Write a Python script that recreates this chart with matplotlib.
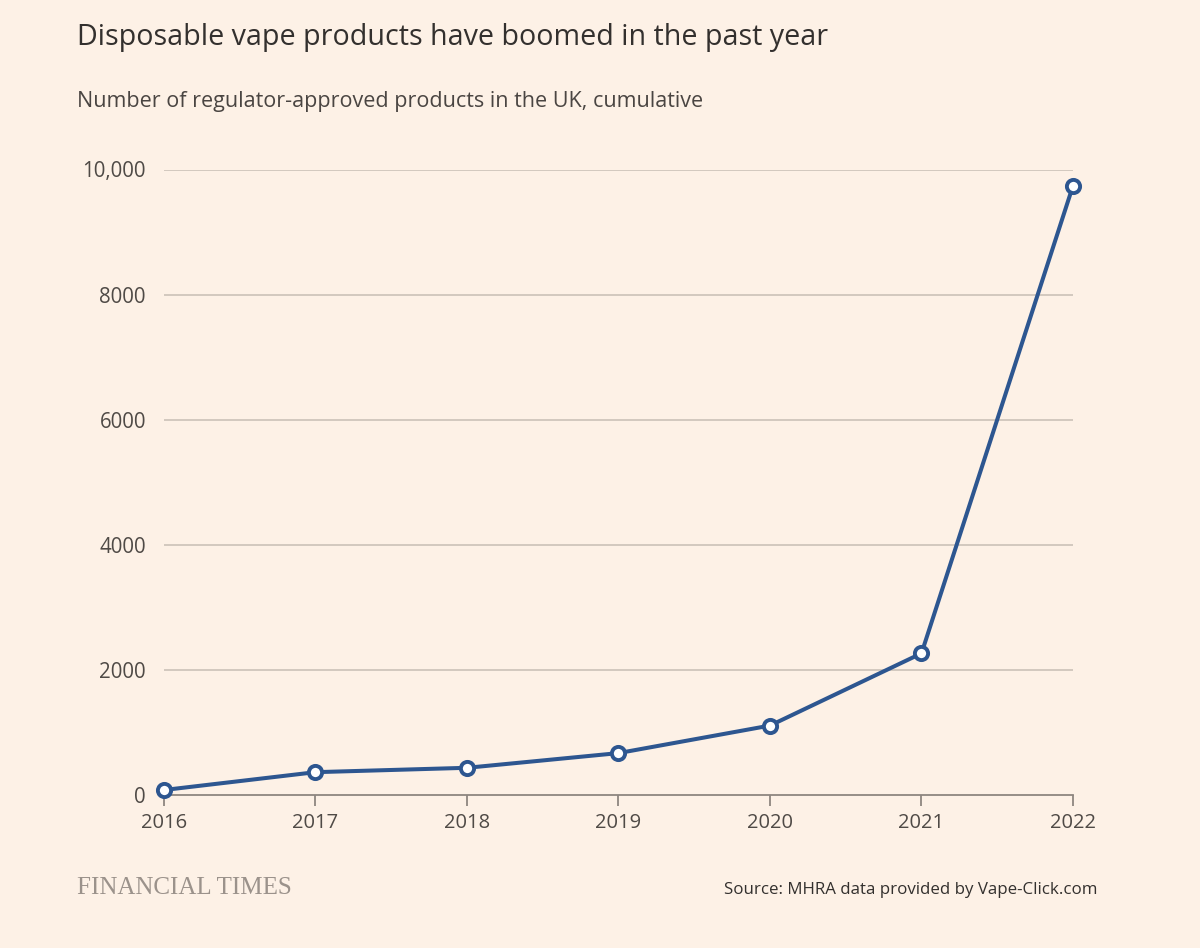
import matplotlib
matplotlib.use("Agg")
import matplotlib.pyplot as plt
from matplotlib.ticker import FixedLocator

years = [2016, 2017, 2018, 2019, 2020, 2021, 2022]
products = [80, 365, 435, 670, 1110, 2265, 9740]
ytick_vals = [0, 2000, 4000, 6000, 8000, 10000]
ytick_labels = ["0", "2000", "4000", "6000", "8000", "10,000"]

BG = "#FDF1E6"
LINE = "#2D5690"
GRID = "#CFC5BB"
AXIS = "#8E8680"
TXT = "#33302E"
TICKTXT = "#4F4A46"

plt.rcParams["font.family"] = ["Open Sans", "DejaVu Sans"]

fig = plt.figure(figsize=(12, 9.48), dpi=100, facecolor=BG)
ax = fig.add_axes([164/1200, 1-795/948, (1073-164)/1200, (795-169.5)/948])
ax.set_facecolor(BG)

ax.plot(years, products, color=LINE, lw=2.9, marker="o", ms=9.5,
        mfc="white", mec=LINE, mew=2.8, clip_on=False, zorder=5)

ax.set_xlim(2016, 2022)
ax.set_ylim(0, 10000)
ax.yaxis.set_major_locator(FixedLocator(ytick_vals))
ax.set_yticklabels(ytick_labels)
ax.set_xticks(years)
ax.set_xticklabels([str(y) for y in years])

for v in ytick_vals[1:]:
    ax.axhline(v, color=GRID, lw=1.3, zorder=1)

for s in ["top", "right", "left"]:
    ax.spines[s].set_visible(False)
ax.spines["bottom"].set_color(AXIS)
ax.spines["bottom"].set_linewidth(1.3)

ax.tick_params(axis="y", length=0, pad=13, labelsize=14.8, labelcolor=TICKTXT)
ax.tick_params(axis="x", length=8, width=1.3, color=AXIS, pad=5,
               labelsize=14.5, labelcolor=TICKTXT)

fig.text(77/1200, 1-37/948, "Disposable vape products have boomed in the past year",
         fontsize=20.6, color=TXT, va="center", ha="left")
fig.text(77/1200, 1-102/948, "Number of regulator-approved products in the UK, cumulative",
         fontsize=15.5, color="#4A4542", va="center", ha="left")
fig.text(77/1200, 1-888/948, "FINANCIAL TIMES", family="Liberation Serif",
         fontsize=18, color="#9B928B", va="center", ha="left")
fig.text(1097/1200, 1-890/948, "Source: MHRA data provided by Vape-Click.com",
         fontsize=12.2, color=TXT, va="center", ha="right")

fig.savefig("out.png", dpi=100, facecolor=BG)
